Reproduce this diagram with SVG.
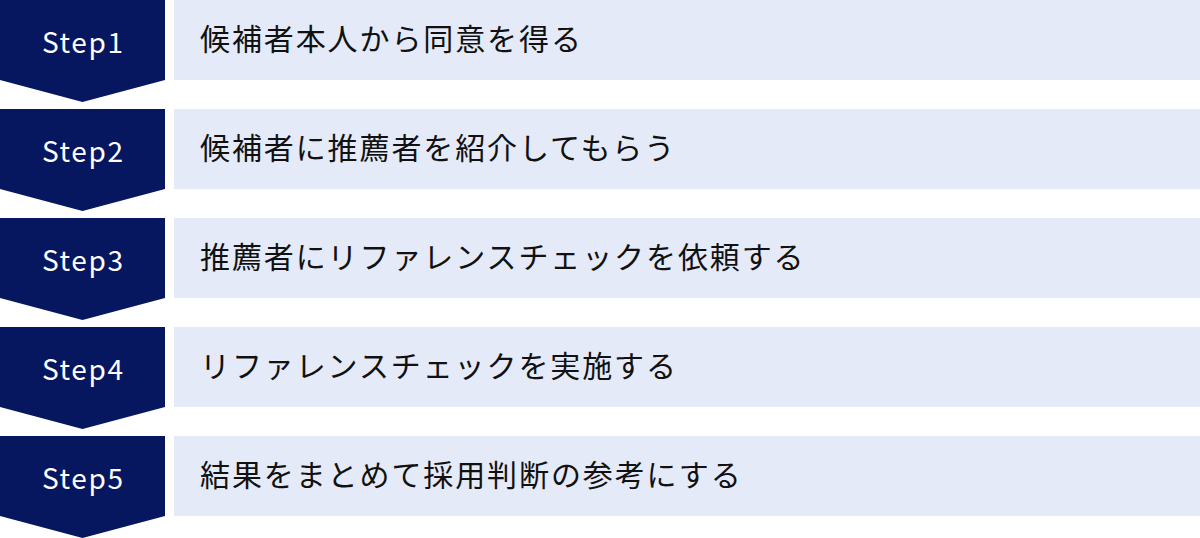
<svg xmlns="http://www.w3.org/2000/svg" width="1200" height="538" viewBox="0 0 1200 538">
<style>
.chev{fill:#06175f}
.box{fill:#e5eaf8}
.st{font-family:"Noto Sans CJK JP",sans-serif;font-size:28px;fill:#ffffff;text-anchor:middle;letter-spacing:1.6px}
.lb{font-family:"Noto Sans CJK JP",sans-serif;font-size:30px;fill:#111111;letter-spacing:1.9px}
</style>
<rect width="1200" height="538" fill="#ffffff"/>
<g id="step1">
<polygon class="chev" points="0,0 165,0 165,80 82.5,102 0,80"/>
<rect class="box" x="174" y="0" width="1026" height="80"/>
<text class="st" x="83.3" y="52.5">Step1</text>
<text class="lb" x="200" y="50">候補者本人から同意を得る</text>
</g>
<g id="step2">
<polygon class="chev" points="0,109 165,109 165,189 82.5,211 0,189"/>
<rect class="box" x="174" y="109" width="1026" height="80"/>
<text class="st" x="83.3" y="161.5">Step2</text>
<text class="lb" x="200" y="159">候補者に推薦者を紹介してもらう</text>
</g>
<g id="step3">
<polygon class="chev" points="0,218 165,218 165,298 82.5,320 0,298"/>
<rect class="box" x="174" y="218" width="1026" height="80"/>
<text class="st" x="83.3" y="270.5">Step3</text>
<text class="lb" x="200" y="268">推薦者にリファレンスチェックを依頼する</text>
</g>
<g id="step4">
<polygon class="chev" points="0,327 165,327 165,407 82.5,429 0,407"/>
<rect class="box" x="174" y="327" width="1026" height="80"/>
<text class="st" x="83.3" y="379.5">Step4</text>
<text class="lb" x="200" y="377">リファレンスチェックを実施する</text>
</g>
<g id="step5">
<polygon class="chev" points="0,436 165,436 165,516 82.5,538 0,516"/>
<rect class="box" x="174" y="436" width="1026" height="80"/>
<text class="st" x="83.3" y="488.5">Step5</text>
<text class="lb" x="200" y="486">結果をまとめて採用判断の参考にする</text>
</g>
<g id="connectors"/>
</svg>
